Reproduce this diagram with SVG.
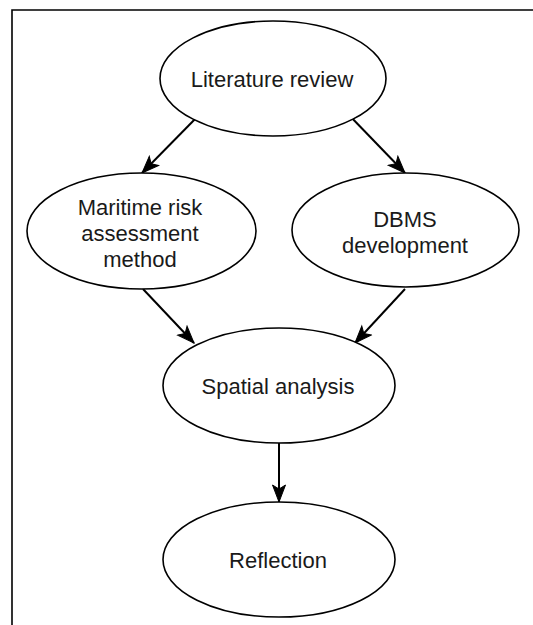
<svg xmlns="http://www.w3.org/2000/svg" width="533" height="625" viewBox="0 0 533 625">
  <style>
    .node ellipse { fill: #ffffff; stroke: #000000; stroke-width: 1.6; }
    .node text { font-family: "Liberation Sans", Arial, sans-serif; font-size: 22px; fill: #1a1a1a; text-anchor: middle; }
    .edge { stroke: #000000; stroke-width: 2; fill: none; marker-end: url(#arrow); }
  </style>
  <defs>
    <marker id="arrow" markerUnits="userSpaceOnUse" markerWidth="20" markerHeight="16" viewBox="-1 -8 20 16" refX="17" refY="0" orient="auto">
      <path d="M0,-6.5 L17,0 L0,6.5 L4,0 Z" fill="#000000" stroke="#000000" stroke-width="1"/>
    </marker>
  </defs>

  <rect width="533" height="625" fill="#ffffff"/>
  <!-- outer frame, running off the right and bottom edges -->
  <path d="M12,630 L12,10 L540,10" fill="none" stroke="#000000" stroke-width="1.6"/>

  <g id="connectors">
    <line class="edge" x1="200" y1="114" x2="142" y2="173"/>
    <line class="edge" x1="348" y1="114" x2="405" y2="173"/>
    <line class="edge" x1="143" y1="289" x2="194" y2="343"/>
    <line class="edge" x1="405" y1="289" x2="355" y2="343"/>
    <line class="edge" x1="279" y1="443" x2="279" y2="502"/>
  </g>

  <g id="literature-review" class="node">
    <ellipse cx="273" cy="78.5" rx="113" ry="57.5"/>
    <text x="272" y="87">Literature review</text>
  </g>

  <g id="maritime-risk" class="node">
    <ellipse cx="141.5" cy="231" rx="114.5" ry="58"/>
    <text x="140" y="215">Maritime risk</text>
    <text x="140" y="241">assessment</text>
    <text x="140" y="267">method</text>
  </g>

  <g id="dbms-development" class="node">
    <ellipse cx="405.5" cy="230" rx="113.5" ry="57"/>
    <text x="405" y="227">DBMS</text>
    <text x="405" y="253">development</text>
  </g>

  <g id="spatial-analysis" class="node">
    <ellipse cx="279" cy="385.5" rx="116" ry="57.5"/>
    <text x="278" y="394">Spatial analysis</text>
  </g>

  <g id="reflection" class="node">
    <ellipse cx="279" cy="559.5" rx="116" ry="57.5"/>
    <text x="278" y="568">Reflection</text>
  </g>
</svg>
